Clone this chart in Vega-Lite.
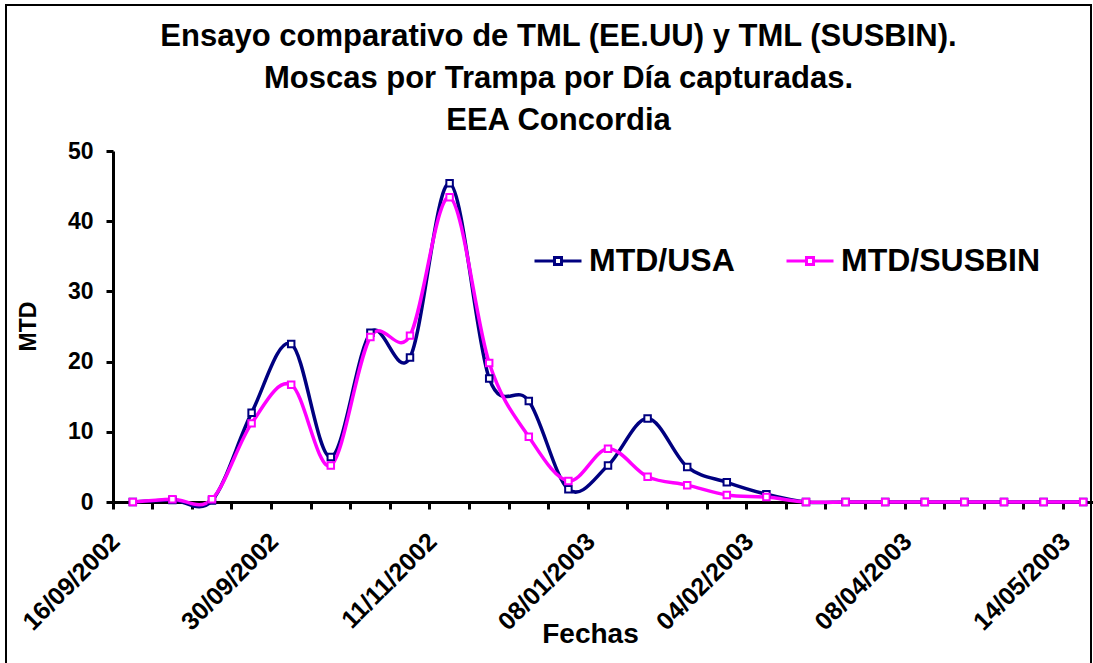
{
  "$schema": "https://vega.github.io/schema/vega-lite/v6.json",
  "autosize": {"type": "none"},
  "padding": {"left": 6, "top": 5, "right": 2, "bottom": -3},
  "width": 1085,
  "height": 661,
  "background": "white",
  "config": {
    "view": {"stroke": "black", "strokeWidth": 2},
    "font": "Liberation Sans",
    "axis": {"grid": false, "domainColor": "black", "tickColor": "black", "labelColor": "black", "titleColor": "black", "labelFont": "Liberation Sans", "titleFont": "Liberation Sans", "labelFontWeight": "bold", "titleFontWeight": "bold"}
  },
  "title": {
    "text": ["Ensayo comparativo de TML (EE.UU) y TML (SUSBIN).", "Moscas por Trampa por Día capturadas.", "EEA Concordia"],
    "font": "Liberation Sans",
    "fontSize": 31,
    "fontWeight": "bold",
    "color": "black",
    "lineHeight": 42,
    "anchor": "middle",
    "frame": "group",
    "baseline": "top",
    "offset": -132,
    "dx": 10
  },
  "data": {
    "values": [
      {"fecha": "16/09/2002", "serie": "MTD/USA", "mtd": 0.0},
      {"fecha": "19/09/2002", "serie": "MTD/USA", "mtd": 0.3},
      {"fecha": "23/09/2002", "serie": "MTD/USA", "mtd": 0.2},
      {"fecha": "26/09/2002", "serie": "MTD/USA", "mtd": 12.7},
      {"fecha": "30/09/2002", "serie": "MTD/USA", "mtd": 22.5},
      {"fecha": "10/10/2002", "serie": "MTD/USA", "mtd": 6.4},
      {"fecha": "21/10/2002", "serie": "MTD/USA", "mtd": 24.1},
      {"fecha": "31/10/2002", "serie": "MTD/USA", "mtd": 20.6},
      {"fecha": "11/11/2002", "serie": "MTD/USA", "mtd": 45.4},
      {"fecha": "25/11/2002", "serie": "MTD/USA", "mtd": 17.6},
      {"fecha": "09/12/2002", "serie": "MTD/USA", "mtd": 14.4},
      {"fecha": "23/12/2002", "serie": "MTD/USA", "mtd": 1.8},
      {"fecha": "08/01/2003", "serie": "MTD/USA", "mtd": 5.2},
      {"fecha": "15/01/2003", "serie": "MTD/USA", "mtd": 11.9},
      {"fecha": "22/01/2003", "serie": "MTD/USA", "mtd": 5.0},
      {"fecha": "28/01/2003", "serie": "MTD/USA", "mtd": 2.8},
      {"fecha": "04/02/2003", "serie": "MTD/USA", "mtd": 1.1},
      {"fecha": "18/02/2003", "serie": "MTD/USA", "mtd": 0.0},
      {"fecha": "04/03/2003", "serie": "MTD/USA", "mtd": 0.0},
      {"fecha": "21/03/2003", "serie": "MTD/USA", "mtd": 0.0},
      {"fecha": "08/04/2003", "serie": "MTD/USA", "mtd": 0.0},
      {"fecha": "17/04/2003", "serie": "MTD/USA", "mtd": 0.0},
      {"fecha": "26/04/2003", "serie": "MTD/USA", "mtd": 0.0},
      {"fecha": "05/05/2003", "serie": "MTD/USA", "mtd": 0.0},
      {"fecha": "14/05/2003", "serie": "MTD/USA", "mtd": 0.0},
      {"fecha": "16/09/2002", "serie": "MTD/SUSBIN", "mtd": 0.0},
      {"fecha": "19/09/2002", "serie": "MTD/SUSBIN", "mtd": 0.4},
      {"fecha": "23/09/2002", "serie": "MTD/SUSBIN", "mtd": 0.4},
      {"fecha": "26/09/2002", "serie": "MTD/SUSBIN", "mtd": 11.2},
      {"fecha": "30/09/2002", "serie": "MTD/SUSBIN", "mtd": 16.7},
      {"fecha": "10/10/2002", "serie": "MTD/SUSBIN", "mtd": 5.2},
      {"fecha": "21/10/2002", "serie": "MTD/SUSBIN", "mtd": 23.5},
      {"fecha": "31/10/2002", "serie": "MTD/SUSBIN", "mtd": 23.7},
      {"fecha": "11/11/2002", "serie": "MTD/SUSBIN", "mtd": 43.4},
      {"fecha": "25/11/2002", "serie": "MTD/SUSBIN", "mtd": 19.8},
      {"fecha": "09/12/2002", "serie": "MTD/SUSBIN", "mtd": 9.3},
      {"fecha": "23/12/2002", "serie": "MTD/SUSBIN", "mtd": 3.0},
      {"fecha": "08/01/2003", "serie": "MTD/SUSBIN", "mtd": 7.6},
      {"fecha": "15/01/2003", "serie": "MTD/SUSBIN", "mtd": 3.6},
      {"fecha": "22/01/2003", "serie": "MTD/SUSBIN", "mtd": 2.4},
      {"fecha": "28/01/2003", "serie": "MTD/SUSBIN", "mtd": 1.0},
      {"fecha": "04/02/2003", "serie": "MTD/SUSBIN", "mtd": 0.7},
      {"fecha": "18/02/2003", "serie": "MTD/SUSBIN", "mtd": 0.0},
      {"fecha": "04/03/2003", "serie": "MTD/SUSBIN", "mtd": 0.0},
      {"fecha": "21/03/2003", "serie": "MTD/SUSBIN", "mtd": 0.0},
      {"fecha": "08/04/2003", "serie": "MTD/SUSBIN", "mtd": 0.0},
      {"fecha": "17/04/2003", "serie": "MTD/SUSBIN", "mtd": 0.0},
      {"fecha": "26/04/2003", "serie": "MTD/SUSBIN", "mtd": 0.0},
      {"fecha": "05/05/2003", "serie": "MTD/SUSBIN", "mtd": 0.0},
      {"fecha": "14/05/2003", "serie": "MTD/SUSBIN", "mtd": 0.0}
    ]
  },
  "encoding": {
    "y": {
      "field": "mtd",
      "type": "quantitative",
      "scale": {"domain": [0, 50], "range": [497, 146], "nice": false, "zero": true},
      "axis": {
        "values": [0, 10, 20, 30, 40, 50],
        "offset": -107,
        "tickSize": 7,
        "tickWidth": 3,
        "domainWidth": 3,
        "labelFontSize": 23,
        "labelPadding": 13,
        "title": "MTD",
        "titleFontSize": 23,
        "titleAngle": -90,
        "titleAlign": "center",
        "titleBaseline": "alphabetic",
        "titleX": -78,
        "titleY": 321
      }
    },
    "stroke": {
      "field": "serie",
      "type": "nominal",
      "sort": null,
      "scale": {"domain": ["MTD/USA", "MTD/SUSBIN"], "range": ["#000080", "#FF00FF"]},
      "legend": {
        "orient": "none",
        "direction": "horizontal",
        "legendX": 527,
        "legendY": 231,
        "title": null,
        "padding": 0,
        "symbolType": "M-1,0H-0.15M0.15,0H1M-0.15,-0.15H0.15V0.15H-0.15Z",
        "symbolSize": 2209,
        "symbolStrokeWidth": 3,
        "labelFont": "Liberation Sans",
        "labelFontSize": 32,
        "labelFontWeight": "bold",
        "labelColor": "black",
        "labelOffset": 6,
        "labelLimit": 400,
        "columnPadding": 45,
        "encode": {"symbols": {"update": {"fill": {"value": "white"}, "strokeWidth": {"value": 3}}}}
      }
    }
  },
  "layer": [
    {
      "mark": {"type": "line", "interpolate": "cardinal", "tension": 0, "strokeWidth": 3.5},
      "encoding": {
        "x": {
          "field": "fecha",
          "type": "ordinal",
          "sort": null,
          "scale": {"type": "band", "range": [107, 1097], "paddingInner": 0, "paddingOuter": 0},
          "axis": {
            "orient": "bottom",
            "offset": -164,
            "bandPosition": 0,
            "labels": false,
            "ticks": true,
            "tickSize": 7,
            "tickWidth": 3,
            "domain": true,
            "domainWidth": 3,
            "title": null
          }
        }
      }
    },
    {
      "mark": {"type": "point", "shape": "square", "filled": true, "fill": "white", "size": 42, "strokeWidth": 2, "opacity": 1},
      "encoding": {
        "x": {
          "field": "fecha",
          "type": "ordinal",
          "sort": null,
          "axis": {
            "orient": "bottom",
            "offset": -164,
            "values": ["16/09/2002", "30/09/2002", "11/11/2002", "08/01/2003", "04/02/2003", "08/04/2003", "14/05/2003"],
            "ticks": false,
            "domain": false,
            "labelAngle": -45,
            "labelAlign": "right",
            "labelBaseline": "middle",
            "labelOffset": -17,
            "labelPadding": 35,
            "labelFontSize": 25,
            "labelLimit": 300,
            "labelOverlap": false,
            "title": "Fechas",
            "titleFontSize": 28,
            "titleX": 584,
            "titleY": 140,
            "titleBaseline": "alphabetic",
            "titleAlign": "center"
          }
        }
      }
    }
  ],
  "resolve": {"axis": {"x": "independent"}}
}
